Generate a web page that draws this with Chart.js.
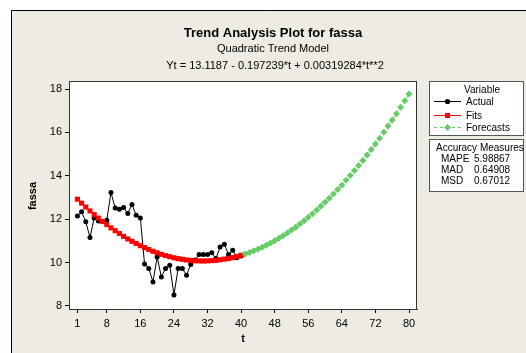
<!DOCTYPE html>
<html>
<head>
<meta charset="utf-8">
<script src="https://cdn.jsdelivr.net/npm/chart.js@4/dist/chart.umd.min.js"></script>
<style>
  html, body { margin: 0; padding: 0; background: #fff; }
  canvas { display: block; }
</style>
</head>
<body>
<canvas id="myChart" width="526" height="353"></canvas>
<script>
// data
const tActual = [1,2,3,4,5,6,7,8,9,10,11,12,13,14,15,16,17,18,19,20,21,22,23,24,25,26,27,28,29,30,31,32,33,34,35,36,37,38,39,40];
const actual = [12.15,12.34,11.88,11.16,12.06,11.92,11.90,11.95,13.23,12.52,12.46,12.54,12.26,12.68,12.18,12.05,9.93,9.73,9.11,10.26,9.34,9.73,9.88,8.51,9.73,9.73,9.42,9.91,10.12,10.37,10.37,10.37,10.45,10.19,10.72,10.85,10.37,10.57,10.22,10.30];
const fits = [12.92,12.74,12.56,12.38,12.21,12.05,11.89,11.75,11.60,11.47,11.34,11.21,11.09,10.98,10.88,10.78,10.69,10.60,10.52,10.45,10.38,10.32,10.27,10.22,10.18,10.15,10.12,10.10,10.08,10.08,10.07,10.08,10.09,10.10,10.13,10.16,10.19,10.23,10.28,10.34];
const tForecast = [41,42,43,44,45,46,47,48,49,50,51,52,53,54,55,56,57,58,59,60,61,62,63,64,65,66,67,68,69,70,71,72,73,74,75,76,77,78,79,80];
const forecasts = [10.40,10.47,10.54,10.62,10.71,10.80,10.90,11.01,11.12,11.24,11.36,11.50,11.63,11.78,11.93,12.09,12.25,12.42,12.60,12.78,12.97,13.16,13.37,13.57,13.79,14.01,14.24,14.47,14.71,14.96,15.21,15.47,15.73,16.01,16.29,16.57,16.86,17.16,17.46,17.77];
const xTicks = [1,8,16,24,32,40,48,56,64,72,80];
const yTicks = [8,10,12,14,16,18];
const accuracy = [['MAPE','5.98867'],['MAD','0.64908'],['MSD','0.67012']];

const FONT = '"Liberation Sans", Arial, sans-serif';
const GREEN = '#66cc66';

const toXY = (ts, vs) => ts.map((t, i) => ({ x: t, y: vs[i] }));

// background, frame, titles and the two legend boxes
const decor = {
    id: 'decor',
    beforeDraw(chart) {
        const c = chart.ctx;
        c.save();
        c.fillStyle = '#fff';
        c.fillRect(0, 0, 526, 353);
        c.fillStyle = '#eeebe2';
        c.fillRect(11, 10, 515, 343);
        c.strokeStyle = '#000';
        c.lineWidth = 1;
        c.beginPath();
        c.moveTo(11.5, 353); c.lineTo(11.5, 10.5); c.lineTo(526, 10.5);
        c.stroke();
        const a = chart.chartArea;
        c.fillStyle = '#fff';
        c.fillRect(a.left, a.top, a.right - a.left, a.bottom - a.top);
        c.restore();
    },
    afterDraw(chart) {
        const c = chart.ctx;
        const a = chart.chartArea;
        c.save();
        c.strokeStyle = '#333';
        c.lineWidth = 1;
        c.strokeRect(a.left + 0.5, a.top + 0.5, a.right - a.left - 1, a.bottom - a.top);

        c.fillStyle = '#000';
        c.textAlign = 'center';
        c.textBaseline = 'middle';
        c.font = 'bold 13px ' + FONT;
        c.fillText('Trend Analysis Plot for fassa', 273, 33);
        c.font = '11px ' + FONT;
        c.fillText('Quadratic Trend Model', 273, 49);
        c.fillText('Yt = 13.1187 - 0.197239*t + 0.00319284*t**2', 275, 66);

        // axis titles
        c.font = 'bold 11px ' + FONT;
        c.fillText('t', 243, 339);
        c.save();
        c.translate(33, 196);
        c.rotate(-Math.PI / 2);
        c.fillText('fassa', 0, 0);
        c.restore();

        // legend box
        c.fillStyle = '#fff';
        c.fillRect(430, 81, 94, 54);
        c.strokeStyle = '#555';
        c.strokeRect(429.5, 81.5, 94, 54);
        c.fillStyle = '#000';
        c.font = '10px ' + FONT;
        c.fillText('Variable', 482, 90);
        c.textAlign = 'left';
        // Actual
        c.strokeStyle = '#000';
        c.beginPath(); c.moveTo(434, 101.5); c.lineTo(461, 101.5); c.stroke();
        c.beginPath(); c.arc(447.5, 101.5, 2.6, 0, Math.PI * 2); c.fill();
        c.fillText('Actual', 466, 102);
        // Fits
        c.strokeStyle = '#ff0000';
        c.beginPath(); c.moveTo(434, 115.5); c.lineTo(461, 115.5); c.stroke();
        c.fillStyle = '#ff0000';
        c.fillRect(445, 113, 5, 5);
        c.fillStyle = '#000';
        c.fillText('Fits', 466, 116);
        // Forecasts
        c.strokeStyle = GREEN;
        c.setLineDash([3, 3]);
        c.beginPath(); c.moveTo(434, 127.5); c.lineTo(461, 127.5); c.stroke();
        c.setLineDash([]);
        c.fillStyle = GREEN;
        c.beginPath();
        c.moveTo(447.5, 124); c.lineTo(451, 127.5); c.lineTo(447.5, 131); c.lineTo(444, 127.5);
        c.closePath(); c.fill();
        c.fillStyle = '#000';
        c.fillText('Forecasts', 466, 128);

        // accuracy box
        c.fillStyle = '#fff';
        c.fillRect(430, 139, 94, 52);
        c.strokeStyle = '#555';
        c.strokeRect(429.5, 139.5, 94, 52);
        c.fillStyle = '#000';
        c.fillText('Accuracy Measures', 436, 148);
        accuracy.forEach((row, i) => {
            c.fillText(row[0], 441, 159 + i * 11);
            c.fillText(row[1], 474, 159 + i * 11);
        });
        c.restore();
    }
};

const data = {
    datasets: [
        {
            label: 'Actual',
            data: toXY(tActual, actual),
            borderColor: '#000',
            backgroundColor: '#000',
            borderWidth: 1,
            pointStyle: 'circle',
            pointRadius: 2.5,
            pointBorderWidth: 0,
            order: 3,
        },
        {
            label: 'Fits',
            data: toXY(tActual, fits),
            borderColor: '#ff0000',
            backgroundColor: '#ff0000',
            borderWidth: 1,
            pointStyle: 'rect',
            pointRadius: 3.6,
            pointBorderWidth: 0,
            order: 2,
        },
        {
            label: 'Forecasts',
            data: toXY(tForecast, forecasts),
            borderColor: GREEN,
            backgroundColor: GREEN,
            borderWidth: 1,
            borderDash: [3, 3],
            pointStyle: 'rectRot',
            pointRadius: 3.5,
            pointBorderWidth: 0,
            order: 1,
        },
    ]
};

const config = {
    type: 'line',
    data,
    plugins: [decor],
    options: {
        responsive: false,
        animation: false,
        devicePixelRatio: 1,
        layout: { padding: { left: 0, top: 81, right: 109, bottom: 0 } },
        plugins: {
            legend: { display: false },
            title: { display: false },
            tooltip: { enabled: false },
        },
        scales: {
            x: {
                type: 'linear',
                min: -1,
                max: 81.9,
                afterFit: scale => { scale.height = 44; },
                afterBuildTicks: scale => { scale.ticks = xTicks.map(v => ({ value: v })); },
                grid: { drawOnChartArea: false, drawTicks: true, tickLength: 4, color: '#000' },
                border: { display: true, color: '#333' },
                ticks: { font: { family: FONT, size: 11 }, color: '#000', padding: 4, maxRotation: 0, autoSkip: false },
            },
            y: {
                type: 'linear',
                min: 7.86,
                max: 18.37,
                afterFit: scale => { scale.width = 69; },
                afterBuildTicks: scale => { scale.ticks = yTicks.map(v => ({ value: v })); },
                grid: { drawOnChartArea: false, drawTicks: true, tickLength: 4, color: '#000' },
                border: { display: true, color: '#333' },
                ticks: { font: { family: FONT, size: 11 }, color: '#000', padding: 3 },
            },
        }
    }
};

const ctx = document.getElementById('myChart');
const myChart = new Chart(ctx, config);
</script>
</body>
</html>
